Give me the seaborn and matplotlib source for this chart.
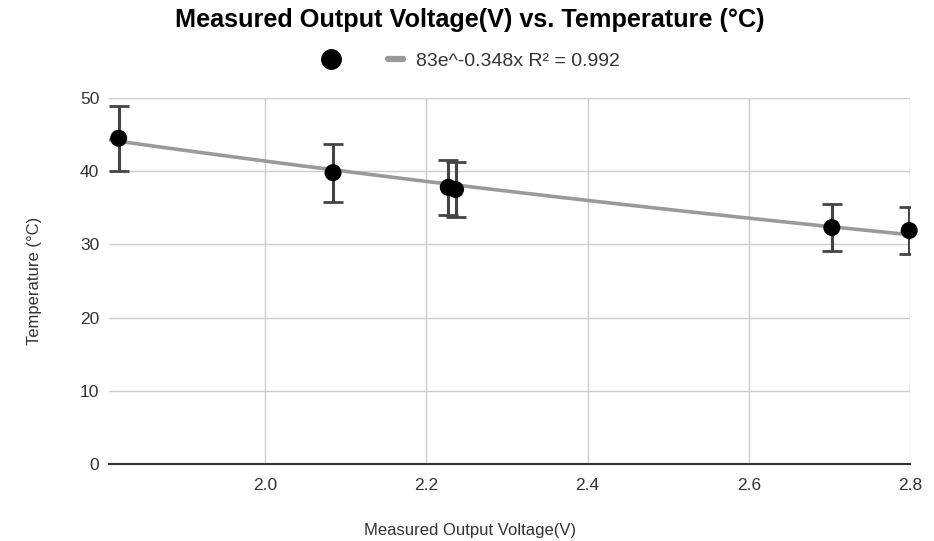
import matplotlib
matplotlib.use("Agg")
import matplotlib.pyplot as plt
import seaborn as sns
import numpy as np
import pandas as pd
from matplotlib.lines import Line2D

# Data
voltage = [1.818, 2.084, 2.227, 2.236, 2.703, 2.799]
temperature = [44.5, 39.8, 37.8, 37.5, 32.3, 31.9]
temp_err = [4.45, 3.98, 3.78, 3.75, 3.23, 3.19]
trend_a = 83
trend_b = -0.348
trend_label = "83e^-0.348x R\u00b2 = 0.992"
x_ticks = [2.0, 2.2, 2.4, 2.6, 2.8]
y_ticks = [0, 10, 20, 30, 40, 50]

sns.set_theme(style="white")
plt.rcParams['font.family'] = ['Liberation Sans', 'DejaVu Sans']

df = pd.DataFrame({"voltage": voltage, "temperature": temperature, "err": temp_err})

fig = plt.figure(figsize=(9.34, 5.41), dpi=100)
ax = fig.add_axes([109 / 934, 1 - 464 / 541, (910 - 109) / 934, (464 - 98) / 541])

xmin, xmax = 1.806, 2.8
xs = np.linspace(xmin, xmax, 200)
trend_df = pd.DataFrame({"x": xs, "y": trend_a * np.exp(trend_b * xs)})
sns.lineplot(data=trend_df, x="x", y="y", ax=ax, color="#9a9a9a", linewidth=2.6, zorder=2)

ax.errorbar(df["voltage"], df["temperature"], yerr=df["err"], fmt="none",
            ecolor="#444444", elinewidth=2.2, capsize=7.5, capthick=2.0, zorder=3)
sns.scatterplot(data=df, x="voltage", y="temperature", ax=ax, color="black",
                s=150, edgecolor="none", zorder=4, clip_on=False)

ax.set_xlim(xmin, xmax)
ax.set_ylim(0, 50)
ax.set_xticks(x_ticks)
ax.set_xticklabels([f"{t:.1f}" for t in x_ticks])
ax.set_yticks(y_ticks)
ax.grid(True, color="#cccccc", linewidth=1)
ax.set_axisbelow(True)
for s in ["top", "right", "left"]:
    ax.spines[s].set_visible(False)
ax.spines["bottom"].set_color("#333333")
ax.spines["bottom"].set_linewidth(1.5)
ax.tick_params(axis="both", length=0, labelsize=12.5, colors="#333333")
ax.tick_params(axis="x", pad=10)
ax.tick_params(axis="y", pad=7)

ax.set_xlabel("Measured Output Voltage(V)", fontsize=12, color="#333333", va="center")
ax.set_ylabel("Temperature (\u00b0C)", fontsize=12, color="#333333", va="center")
ax.xaxis.set_label_coords((470 - 109) / (910 - 109), -(531 - 464) / (464 - 98))
ax.yaxis.set_label_coords(-(109 - 35) / (910 - 109), (464 - 281) / (464 - 98))

fig.text(470 / 934, 1 - 20 / 541, "Measured Output Voltage(V) vs. Temperature (\u00b0C)",
         ha="center", va="center", fontsize=18.2, fontweight="bold", color="#000000")

handles = [
    Line2D([], [], marker="o", color="black", linestyle="none", markersize=14),
    Line2D([], [], color="#9a9a9a", linewidth=4.5),
]
fig.legend(handles, ["", trend_label], loc="center", bbox_to_anchor=(472 / 934, 1 - 61 / 541),
           ncol=2, frameon=False, fontsize=14, handlelength=0.75, columnspacing=1.85,
           handletextpad=0.7, labelcolor="#333333")

fig.savefig("out.png", dpi=100)
